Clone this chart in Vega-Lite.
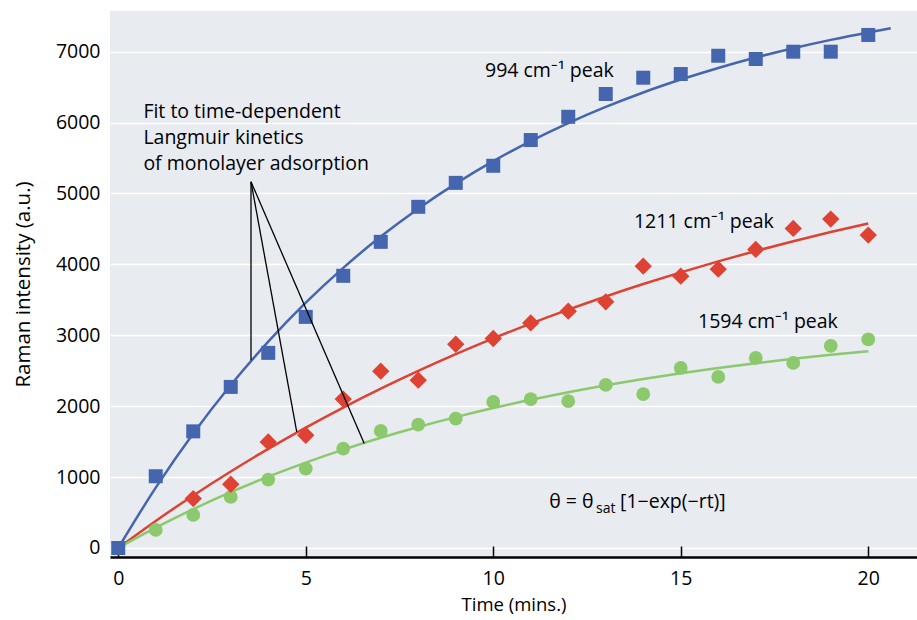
{
  "$schema": "https://vega.github.io/schema/vega-lite/v6.json",
  "width": 807,
  "height": 546,
  "autosize": {"type": "none"},
  "padding": {"left": 110, "top": 11, "right": 0, "bottom": 63},
  "background": "#ffffff",
  "config": {"view": {"fill": "#e8ebf0", "stroke": null}, "font": "Open Sans"},
  "datasets": {
    "curves": [
      {"t": 0, "v": 0, "s": "994"}, {"t": 1, "v": 852, "s": "994"}, {"t": 2, "v": 1615, "s": "994"}, {"t": 3, "v": 2299, "s": "994"}, {"t": 4, "v": 2911, "s": "994"}, {"t": 5, "v": 3460, "s": "994"}, {"t": 6, "v": 3951, "s": "994"}, {"t": 7, "v": 4392, "s": "994"}, {"t": 8, "v": 4786, "s": "994"}, {"t": 9, "v": 5139, "s": "994"}, {"t": 10, "v": 5456, "s": "994"}, {"t": 11, "v": 5739, "s": "994"}, {"t": 12, "v": 5993, "s": "994"}, {"t": 13, "v": 6221, "s": "994"}, {"t": 14, "v": 6425, "s": "994"}, {"t": 15, "v": 6607, "s": "994"}, {"t": 16, "v": 6771, "s": "994"}, {"t": 17, "v": 6918, "s": "994"}, {"t": 18, "v": 7049, "s": "994"}, {"t": 19, "v": 7167, "s": "994"}, {"t": 20, "v": 7272, "s": "994"}, {"t": 20.6, "v": 7330, "s": "994"},
      {"t": 0, "v": 0, "s": "1211"}, {"t": 1, "v": 382, "s": "1211"}, {"t": 2, "v": 741, "s": "1211"}, {"t": 3, "v": 1079, "s": "1211"}, {"t": 4, "v": 1398, "s": "1211"}, {"t": 5, "v": 1698, "s": "1211"}, {"t": 6, "v": 1981, "s": "1211"}, {"t": 7, "v": 2247, "s": "1211"}, {"t": 8, "v": 2497, "s": "1211"}, {"t": 9, "v": 2733, "s": "1211"}, {"t": 10, "v": 2956, "s": "1211"}, {"t": 11, "v": 3165, "s": "1211"}, {"t": 12, "v": 3362, "s": "1211"}, {"t": 13, "v": 3548, "s": "1211"}, {"t": 14, "v": 3723, "s": "1211"}, {"t": 15, "v": 3888, "s": "1211"}, {"t": 16, "v": 4043, "s": "1211"}, {"t": 17, "v": 4189, "s": "1211"}, {"t": 18, "v": 4326, "s": "1211"}, {"t": 19, "v": 4456, "s": "1211"}, {"t": 20, "v": 4578, "s": "1211"},
      {"t": 0, "v": 0, "s": "1594"}, {"t": 1, "v": 286, "s": "1594"}, {"t": 2, "v": 548, "s": "1594"}, {"t": 3, "v": 787, "s": "1594"}, {"t": 4, "v": 1006, "s": "1594"}, {"t": 5, "v": 1205, "s": "1594"}, {"t": 6, "v": 1388, "s": "1594"}, {"t": 7, "v": 1555, "s": "1594"}, {"t": 8, "v": 1707, "s": "1594"}, {"t": 9, "v": 1846, "s": "1594"}, {"t": 10, "v": 1974, "s": "1594"}, {"t": 11, "v": 2090, "s": "1594"}, {"t": 12, "v": 2197, "s": "1594"}, {"t": 13, "v": 2294, "s": "1594"}, {"t": 14, "v": 2383, "s": "1594"}, {"t": 15, "v": 2464, "s": "1594"}, {"t": 16, "v": 2538, "s": "1594"}, {"t": 17, "v": 2606, "s": "1594"}, {"t": 18, "v": 2668, "s": "1594"}, {"t": 19, "v": 2724, "s": "1594"}, {"t": 20, "v": 2776, "s": "1594"}
    ],
    "points": [
      {"t": 1, "v": 255, "s": "1594"}, {"t": 2, "v": 466, "s": "1594"}, {"t": 3, "v": 720, "s": "1594"}, {"t": 4, "v": 965, "s": "1594"}, {"t": 5, "v": 1120, "s": "1594"}, {"t": 6, "v": 1403, "s": "1594"}, {"t": 7, "v": 1651, "s": "1594"}, {"t": 8, "v": 1741, "s": "1594"}, {"t": 9, "v": 1826, "s": "1594"}, {"t": 10, "v": 2060, "s": "1594"}, {"t": 11, "v": 2100, "s": "1594"}, {"t": 12, "v": 2070, "s": "1594"}, {"t": 13, "v": 2300, "s": "1594"}, {"t": 14, "v": 2170, "s": "1594"}, {"t": 15, "v": 2540, "s": "1594"}, {"t": 16, "v": 2413, "s": "1594"}, {"t": 17, "v": 2681, "s": "1594"}, {"t": 18, "v": 2611, "s": "1594"}, {"t": 19, "v": 2851, "s": "1594"}, {"t": 20, "v": 2941, "s": "1594"},
      {"t": 2, "v": 697, "s": "1211"}, {"t": 3, "v": 899, "s": "1211"}, {"t": 4, "v": 1496, "s": "1211"}, {"t": 5, "v": 1590, "s": "1211"}, {"t": 6, "v": 2100, "s": "1211"}, {"t": 7, "v": 2494, "s": "1211"}, {"t": 8, "v": 2367, "s": "1211"}, {"t": 9, "v": 2874, "s": "1211"}, {"t": 10, "v": 2955, "s": "1211"}, {"t": 11, "v": 3175, "s": "1211"}, {"t": 12, "v": 3340, "s": "1211"}, {"t": 13, "v": 3472, "s": "1211"}, {"t": 14, "v": 3975, "s": "1211"}, {"t": 15, "v": 3834, "s": "1211"}, {"t": 16, "v": 3933, "s": "1211"}, {"t": 17, "v": 4211, "s": "1211"}, {"t": 18, "v": 4507, "s": "1211"}, {"t": 19, "v": 4639, "s": "1211"}, {"t": 20, "v": 4413, "s": "1211"},
      {"t": 0, "v": 0, "s": "994"}, {"t": 1, "v": 1012, "s": "994"}, {"t": 2, "v": 1645, "s": "994"}, {"t": 3, "v": 2272, "s": "994"}, {"t": 4, "v": 2752, "s": "994"}, {"t": 5, "v": 3260, "s": "994"}, {"t": 6, "v": 3839, "s": "994"}, {"t": 7, "v": 4318, "s": "994"}, {"t": 8, "v": 4812, "s": "994"}, {"t": 9, "v": 5150, "s": "994"}, {"t": 10, "v": 5391, "s": "994"}, {"t": 11, "v": 5754, "s": "994"}, {"t": 12, "v": 6082, "s": "994"}, {"t": 13, "v": 6403, "s": "994"}, {"t": 14, "v": 6633, "s": "994"}, {"t": 15, "v": 6685, "s": "994"}, {"t": 16, "v": 6943, "s": "994"}, {"t": 17, "v": 6897, "s": "994"}, {"t": 18, "v": 7000, "s": "994"}, {"t": 19, "v": 7000, "s": "994"}, {"t": 20, "v": 7236, "s": "994"}
    ],
    "pointers": [
      {"t": 3.54, "v": 5165, "t2": 3.54, "v2": 2649},
      {"t": 3.54, "v": 5165, "t2": 4.76, "v2": 1637},
      {"t": 3.54, "v": 5165, "t2": 6.56, "v2": 1473}
    ],
    "labels": [
      {"t": 9.78, "v": 6647, "label": "994 cm⁻¹ peak"},
      {"t": 13.75, "v": 4512, "label": "1211 cm⁻¹ peak"},
      {"t": 15.46, "v": 3101, "label": "1594 cm⁻¹ peak"},
      {"t": 0.67, "v": 6060, "label": "Fit to time-dependent"},
      {"t": 0.67, "v": 5697, "label": "Langmuir kinetics"},
      {"t": 0.67, "v": 5330, "label": "of monolayer adsorption"},
      {"t": 11.49, "v": 560, "label": "θ = θ"},
      {"t": 13.38, "v": 560, "label": "[1−exp(−rt)]"}
    ],
    "subs": [
      {"t": 12.74, "v": 489, "label": "sat"}
    ]
  },
  "layer": [
    {
      "data": {"name": "curves"},
      "mark": {"type": "line", "strokeWidth": 2.5, "interpolate": "monotone"},
      "encoding": {
        "x": {"field": "t", "type": "quantitative",
          "scale": {"domain": [-0.22, 21.3], "nice": false, "zero": false},
          "axis": {"values": [0, 5, 10, 15, 20], "grid": false, "domain": true, "domainColor": "#000000", "domainWidth": 2.5,
            "ticks": true, "tickSize": -11, "tickColor": "#000000", "tickWidth": 1.5, "labelPadding": 23,
            "labelFontSize": 19.5, "labelColor": "#000000", "labelFlush": false,
            "title": "Time (mins.)", "titleFontSize": 18.5, "titleFontWeight": "normal", "titleColor": "#000000", "titlePadding": 8}},
        "y": {"field": "v", "type": "quantitative",
          "scale": {"domain": [-127, 7574], "nice": false, "zero": false},
          "axis": {"values": [0, 1000, 2000, 3000, 4000, 5000, 6000, 7000], "format": "d", "grid": true, "gridColor": "#ffffff", "gridWidth": 1.5,
            "domain": false, "ticks": false, "labelPadding": 10, "labelFontSize": 19.5, "labelColor": "#000000",
            "title": "Raman intensity (a.u.)", "titleFontSize": 20.5, "titleFontWeight": "normal", "titleColor": "#000000", "titlePadding": 22}},
        "color": {"field": "s", "type": "nominal", "legend": null,
          "scale": {"domain": ["994", "1211", "1594"], "range": ["#4565ae", "#de4232", "#8bc96c"]}},
        "detail": {"field": "s"}
      }
    },
    {
      "data": {"name": "points"},
      "transform": [{"filter": "datum.s === '1594'"}],
      "mark": {"type": "point", "filled": true, "opacity": 1, "shape": "circle", "size": 190, "color": "#8bc96c"},
      "encoding": {
        "x": {"field": "t", "type": "quantitative"},
        "y": {"field": "v", "type": "quantitative"}
      }
    },
    {
      "data": {"name": "points"},
      "transform": [{"filter": "datum.s === '1211'"}],
      "mark": {"type": "point", "filled": true, "opacity": 1, "shape": "diamond", "size": 300, "color": "#de4232"},
      "encoding": {
        "x": {"field": "t", "type": "quantitative"},
        "y": {"field": "v", "type": "quantitative"}
      }
    },
    {
      "data": {"name": "points"},
      "transform": [{"filter": "datum.s === '994'"}],
      "mark": {"type": "point", "filled": true, "opacity": 1, "shape": "square", "size": 196, "color": "#4565ae"},
      "encoding": {
        "x": {"field": "t", "type": "quantitative"},
        "y": {"field": "v", "type": "quantitative"}
      }
    },
    {
      "data": {"name": "pointers"},
      "mark": {"type": "rule", "color": "#000000", "strokeWidth": 1.3},
      "encoding": {
        "x": {"field": "t", "type": "quantitative"},
        "y": {"field": "v", "type": "quantitative"},
        "x2": {"field": "t2"},
        "y2": {"field": "v2"}
      }
    },
    {
      "data": {"name": "labels"},
      "mark": {"type": "text", "align": "left", "baseline": "alphabetic", "fontSize": 19.5, "color": "#000000"},
      "encoding": {
        "x": {"field": "t", "type": "quantitative"},
        "y": {"field": "v", "type": "quantitative"},
        "text": {"field": "label"}
      }
    },
    {
      "data": {"name": "subs"},
      "mark": {"type": "text", "align": "left", "baseline": "alphabetic", "fontSize": 14, "color": "#000000"},
      "encoding": {
        "x": {"field": "t", "type": "quantitative"},
        "y": {"field": "v", "type": "quantitative"},
        "text": {"field": "label"}
      }
    }
  ]
}
